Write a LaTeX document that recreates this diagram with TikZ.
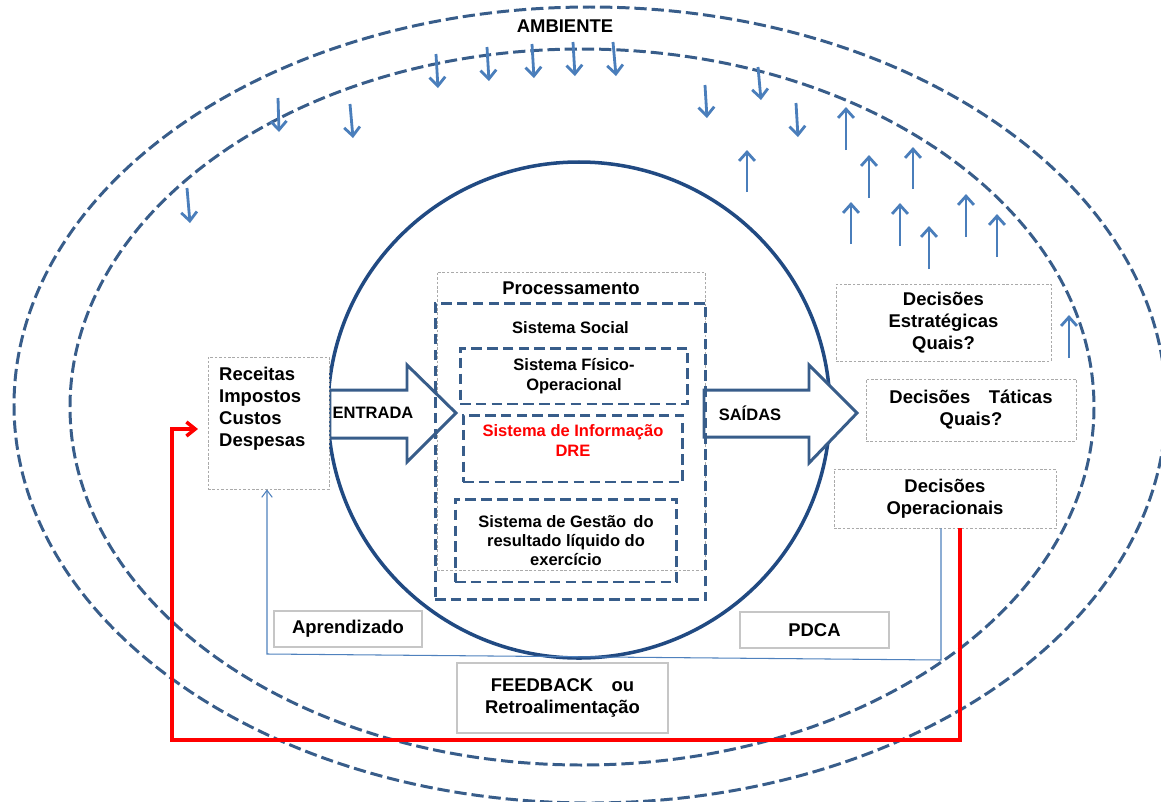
\documentclass[tikz,border=0pt]{standalone}
\usepackage{fontspec}
\setmainfont{Liberation Sans}
\usetikzlibrary{arrows.meta}

\definecolor{envblue}{RGB}{56,93,138}
\definecolor{circblue}{RGB}{33,74,130}
\definecolor{arrblue}{RGB}{74,126,187}
\definecolor{fbblue}{RGB}{79,129,189}
\definecolor{boxgray}{RGB}{170,170,170}

\tikzset{
  txt/.style={font=\fontsize{10.5}{12.5}\selectfont\bfseries, align=center},
  smalltxt/.style={font=\fontsize{9.4}{11}\selectfont\bfseries, align=center},
  dotbox/.style={draw=boxgray, line width=0.5pt, dash pattern=on 1.5pt off 1pt, fill=white, inner sep=0pt},
  solidbox/.style={draw=gray!45, line width=1pt, fill=white, inner sep=0pt},
  sysbox/.style={draw=envblue, line width=1.7pt, dash pattern=on 6pt off 3pt, inner sep=0pt},
  envline/.style={draw=envblue, line width=1.7pt, dash pattern=on 7pt off 2.8pt},
  envarrow/.style={arrblue, line width=1.6pt, -{Straight Barb[length=5pt,width=9pt]}},
  blockarrow/.style={draw=envblue, line width=1.7pt, fill=white, line join=miter},
  redfb/.style={red, line width=2pt, line join=miter, -{Straight Barb[length=5pt,width=8pt]}},
  bluefb/.style={fbblue, line width=0.6pt, -{Straight Barb[length=4pt,width=6pt]}}
}

\begin{document}
\begin{tikzpicture}[x=0.02cm, y=-0.02cm]
  \useasboundingbox (0,0) rectangle (1161,802);

  % ambiente
  \draw[envline] (590,405) ellipse [x radius=576, y radius=398];
  \draw[envline] (582,407) ellipse [x radius=512, y radius=358];
  \node[txt] (ambiente) at (565,26) {AMBIENTE};
  \foreach \xa/\ya/\xb/\yb in {436/54/438/88, 487/47/489/81, 532/44/534/78,
      573/42/575/76, 613/42/616/76, 278/98/279/132, 350/104/353/138,
      187/188/190/223, 705/85/707/118, 758/67/761/100, 796/103/798/137,
      747/192/747/150, 846/150/846/107, 869/198/869/155, 913/189/913/147,
      851/244/851/202, 900/246/900/203, 929/269/929/226, 966/237/966/194,
      997/257/997/214, 1069/358/1069/315}
    \draw[envarrow] (\xa,\ya) -- (\xb,\yb);

  % sistema
  \draw[circblue, line width=2pt] (579,410) ellipse [x radius=251, y radius=248];
  \node[dotbox, fill=none, minimum width=5.36cm, minimum height=5.96cm,
    label={[txt, anchor=north, yshift=-2pt]north:Processamento}] (processamento) at (571,421) {};

  \draw[blockarrow] (330,390) -- (407,390) -- (407,365) -- (456,413)
    -- (407,462) -- (407,438) -- (330,438) -- cycle;
  \node[smalltxt] (entrada) at (373,413) {ENTRADA};
  \draw[blockarrow] (704,390) -- (809,390) -- (809,365) -- (857,413)
    -- (809,463) -- (809,437) -- (704,437) -- cycle;
  \node[smalltxt] (saidas) at (750,413) {SAÍDAS};

  \node[sysbox, minimum width=5.42cm, minimum height=5.94cm,
    label={[smalltxt, anchor=north, yshift=-8pt]north:Sistema Social}] (social) at (570.5,451.5) {};
  \node[sysbox, smalltxt, minimum width=4.56cm, minimum height=1.12cm] (fisico) at (574,376)
    {Sistema Físico-\\Operacional};
  \node[sysbox, minimum width=4.4cm, minimum height=1.34cm,
    label={[smalltxt, red, anchor=north, yshift=-3pt]north:Sistema de Informação\\DRE}] (info) at (573,448.5) {};
  \node[sysbox, smalltxt, minimum width=4.44cm, minimum height=1.66cm] (gestao) at (566,540.5)
    {Sistema de Gestão\, do\\resultado líquido do\\exercício};

  % entradas e decisoes
  \node[dotbox, minimum width=2.42cm, minimum height=2.64cm] (receitas) at (268.5,423) {};
  \node[txt, align=left, anchor=north west] (receitastxt) at (213,361)
    {Receitas\\Impostos\\Custos\\Despesas};
  \node[dotbox, txt, minimum width=4.3cm, minimum height=1.54cm] (estrat) at (943.5,322.5)
    {Decisões\\Estratégicas\\Quais?};
  \node[dotbox, txt, minimum width=4.2cm, minimum height=1.24cm] (taticas) at (971,410)
    {Decisões\quad Táticas\\Quais?};
  \node[dotbox, txt, minimum width=4.44cm, minimum height=1.18cm] (operac) at (945,498.5)
    {Decisões\\Operacionais};

  % feedback
  \node[solidbox, txt, minimum width=2.96cm, minimum height=0.72cm] (aprend) at (348,629) {Aprendizado};
  \node[solidbox, txt, minimum width=2.98cm, minimum height=0.72cm] (pdca) at (814.5,630) {PDCA};
  \node[solidbox, txt, minimum width=4.22cm, minimum height=1.4cm] (feedback) at (562.5,698)
    {FEEDBACK\quad ou\\Retroalimentação};

  \coordinate (fbturn) at (941,660);
  \coordinate (fbleft) at (267,654);
  \draw[bluefb] (operac.south -| fbturn) -- (fbturn) -- (fbleft) -- (receitas.south -| fbleft);

  \coordinate (redx) at (960,0);
  \coordinate (fblow) at (172,740);
  \coordinate (fbin) at (198,429);
  \draw[redfb] (operac.south -| redx) |- (fblow) |- (fbin);
\end{tikzpicture}
\end{document}
